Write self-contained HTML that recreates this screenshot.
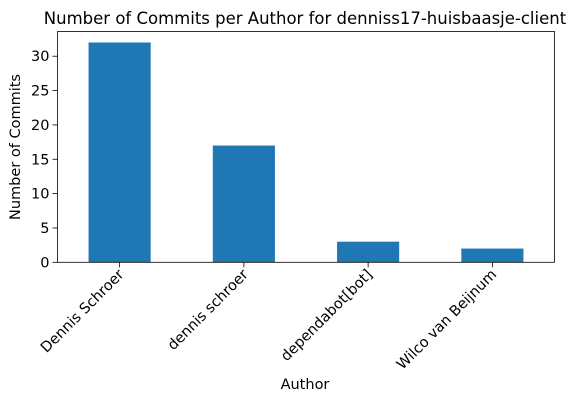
<!DOCTYPE html>
<html><head><meta charset="utf-8"><style>
body{margin:0;background:#fff;}
text{font-family:"DejaVu Sans","Liberation Sans",sans-serif;fill:#000;}
</style></head><body>
<svg id="chart" width="577" height="402">
<text x="305" y="24" font-size="16.5" text-anchor="middle">Number of Commits per Author for denniss17-huisbaasje-client</text>
<g id="plot"></g>
<text x="305" y="389" font-size="14.5" text-anchor="middle">Author</text>
<text transform="translate(20,147) rotate(-90)" font-size="14.5" text-anchor="middle">Number of Commits</text>
</svg>
<script>
const categories=["Dennis Schroer","dennis schroer","dependabot[bot]","Wilco van Beijnum"];
const commits=[32,17,3,2];
const yTicks=[0,5,10,15,20,25,30];
const L=57.5,R=554.5,T=31.5,B=262.3,yMax=33.6;
const ns="http://www.w3.org/2000/svg";
const g=document.getElementById('plot');
function y(v){return B-(B-T)*v/yMax;}
const step=(R-L)/categories.length;
function x(i){return L+step*(i+0.5);}
function mk(t,a){const e=document.createElementNS(ns,t);for(const k in a)e.setAttribute(k,a[k]);g.appendChild(e);return e;}
categories.forEach((c,i)=>{
 const r=mk('rect',{x:x(i)-step*0.25,y:y(commits[i]),width:step*0.5,height:B-y(commits[i]),fill:'#1f77b4'});
 
 
 const tk=mk('line',{x1:x(i),x2:x(i),y1:B,y2:B+5,stroke:'#000','stroke-width':0.8});
 
 
 const t=mk('text',{transform:`translate(${x(i)+5},${B+13}) rotate(-45)`,'font-size':14.5,'text-anchor':'end'});
 t.textContent=c;
 
 
});
yTicks.forEach(v=>{
 const tk=mk('line',{x1:L-5,x2:L,y1:y(v),y2:y(v),stroke:'#000','stroke-width':0.8});
 
 
 const t=mk('text',{x:L-8,y:y(v)+5,'font-size':14.5,'text-anchor':'end'});
 t.textContent=v;
 
 
});
const f=mk('rect',{x:L,y:T,width:R-L,height:B-T,fill:'none',stroke:'#000','stroke-width':0.8});


</script>
</body></html>
